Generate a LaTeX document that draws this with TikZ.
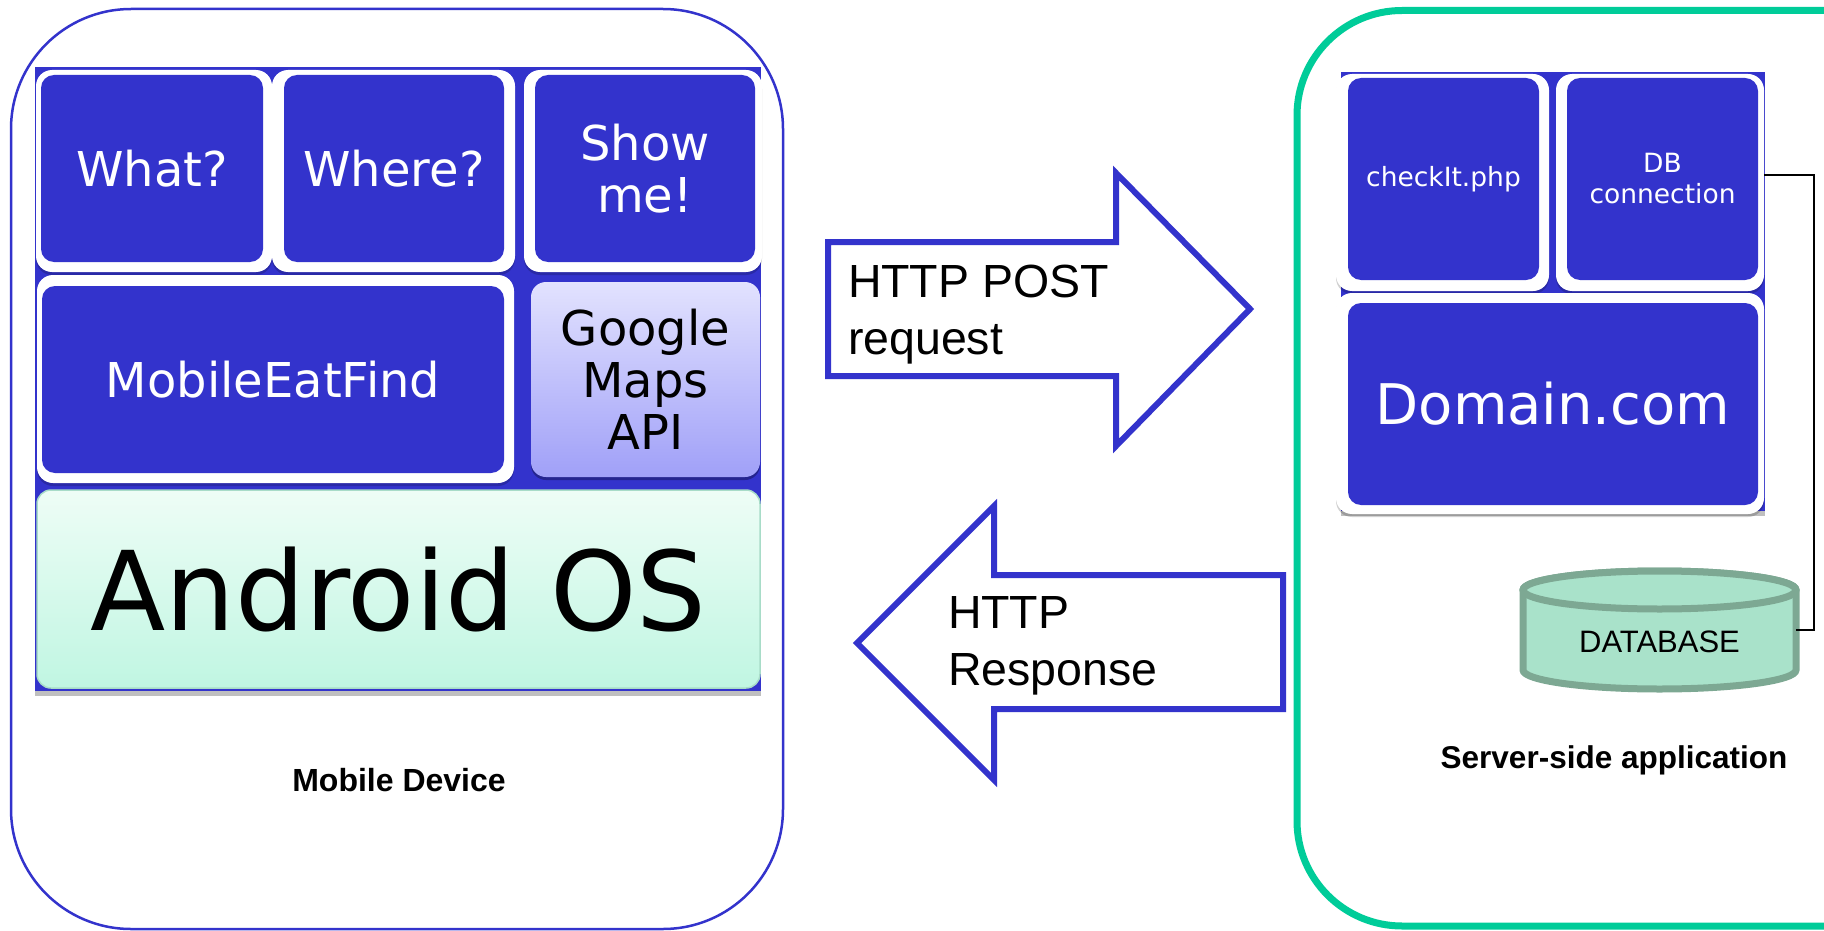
\documentclass[tikz,border=0pt]{standalone}
\usepackage{fontspec}
\newfontfamily\vfont{DejaVu Sans}
\newfontfamily\afont{Liberation Sans}
\usetikzlibrary{fit,shadows}
\definecolor{mblue}{HTML}{3333CC}
\definecolor{mgreen}{HTML}{00CC99}
\definecolor{dbfill}{HTML}{A9E2CA}
\definecolor{dbline}{HTML}{7DA893}
\definecolor{gtop}{HTML}{E2E2FE}
\definecolor{gbot}{HTML}{A0A0F8}
\definecolor{atop}{HTML}{EEFDF6}
\definecolor{abot}{HTML}{C0F6E2}
\definecolor{aline}{HTML}{A8DCC8}
\begin{document}
\begin{tikzpicture}[x=1pt,y=-1pt,
  every node/.style={inner sep=0pt, outer sep=0pt},
  bg/.style={fill=white, rounded corners=16pt, drop shadow={shadow xshift=0pt, shadow yshift=-3pt, fill=black, opacity=0.18}},
  tile/.style={fill=mblue, rounded corners=13pt},
  ttext/.style={text=white, align=center, font=\vfont\fontsize{48}{52}\selectfont},
  stext/.style={ttext, font=\vfont\fontsize{26.5}{31}\selectfont},
  arrowshape/.style={draw=mblue, line width=6pt, fill=white, line join=miter},
  lbl/.style={font=\afont\fontsize{46.5}{57}\selectfont, align=left, anchor=north west},
  caption/.style={font=\afont\bfseries\fontsize{31.5}{36}\selectfont, anchor=base},
]
\useasboundingbox (0,0) rectangle (1824,931);
\clip (0,0) rectangle (1824,931);
\fill[white] (0,0) rectangle (1824,931);

% ---------- Mobile device ----------
\node[fit={(11,9) (783,929)}, draw=mblue, line width=2.5pt, rounded corners=120pt] (mobile) {};
\node[fit={(35,67) (761,691)}, fill=mblue, drop shadow={shadow xshift=0pt, shadow yshift=-5pt, fill=black, opacity=0.25}] (stack) {};
\node[bg, fit={(36,70) (272,272)}] (whatbg) {};
\node[bg, fit={(272,70) (515,272)}] (wherebg) {};
\node[bg, fit={(524,70) (762,272)}] (showbg) {};
\node[bg, fit={(37,275) (514,483)}] (mefbg) {};
\node[tile, fit={(41,75) (263,262)}] (what) {};
\node[ttext] (whatlbl) at (what) {What?};
\node[tile, fit={(284,75) (504,262)}] (where) {};
\node[ttext] (wherelbl) at (where) {Where?};
\node[tile, fit={(535,75) (755,262)}] (show) {};
\node[ttext] (showlbl) at (show) {Show\\me!};
\node[tile, fit={(42,286) (504,473)}] (mef) {};
\node[ttext] (meflbl) at (mef) {MobileEatFind};
\node[fit={(531,282) (760,477)}, rounded corners=15pt, top color=gtop, bottom color=gbot,
      drop shadow={shadow xshift=0pt, shadow yshift=-3pt, fill=mblue!70!black, opacity=1}] (gmaps) {};
\node[ttext, text=black] (gmapslbl) at (gmaps) {Google\\Maps\\API};
\node[fit={(37,490) (760,688)}, rounded corners=14pt, top color=atop, bottom color=abot,
      draw=aline, line width=1.5pt] (android) {};
\node[font=\vfont\fontsize{110}{120}\selectfont] (androidlbl) at (android) {Android OS};
\node[caption, font=\afont\bfseries\fontsize{32}{36}\selectfont] (mobilecap) at (399,791) {Mobile Device};

% ---------- Arrows ----------
\draw[arrowshape] (828,242) -- (1116,242) -- (1116,173) -- (1250,309) -- (1116,446) -- (1116,376) -- (828,376) -- cycle;
\node[lbl] (post) at (848,264.7) {HTTP POST\\request};
\draw[arrowshape] (1283,575) -- (994,575) -- (994,506) -- (857,643) -- (994,780) -- (994,709) -- (1283,709) -- cycle;
\node[lbl] (resp) at (948,596.7) {HTTP\\Response};

% ---------- Server ----------
\node[fit={(1297,10.5) (1960,926)}, draw=mgreen, line width=7pt, rounded corners=105pt] (server) {};
\node[fit={(1341,72) (1765,511)}, fill=mblue, drop shadow={shadow xshift=0pt, shadow yshift=-5pt, fill=black, opacity=0.25}] (srvstack) {};
\node[bg, fit={(1336,74) (1549,291)}] (checkbg) {};
\node[bg, fit={(1556,74) (1764,291)}] (dbbg) {};
\node[bg, fit={(1336,293) (1764,514)}] (dombg) {};
\node[tile, fit={(1348,78) (1539,280)}] (check) {};
\node[stext] (checklbl) at (check) {checkIt.php};
\node[tile, fit={(1567,78) (1758,280)}] (dbconn) {};
\node[stext] (dbconnlbl) at (dbconn) {DB\\connection};
\node[tile, fit={(1348,303) (1758,505)}] (domain) {};
\node[ttext, font=\vfont\fontsize{56}{60}\selectfont] (domainlbl) at (domain) {Domain.com};

% database cylinder
\draw[draw=dbline, fill=dbfill, line width=7pt]
  (1523,590) -- (1523,670) arc[start angle=180, end angle=360, x radius=136.5pt, y radius=19pt]
  -- (1796,590) arc[start angle=0, end angle=180, x radius=136.5pt, y radius=19pt] -- cycle;
\draw[draw=dbline, fill=dbfill, line width=7pt] (1659.5,590) ellipse[x radius=136.5pt, y radius=19pt];
\node[fit={(1523,571) (1796,689)}] (db) {};
\node[font=\afont\fontsize{31}{36}\selectfont, anchor=base] (dblabel) at (1659.5,652) {DATABASE};

\draw[line width=2.5pt, black] ([yshift=7.5pt]dbbg.east) -- ++(50,0) |- (db.east);

\node[caption] (srvcap) at (1614,768) {Server-side application};
\end{tikzpicture}
\end{document}
